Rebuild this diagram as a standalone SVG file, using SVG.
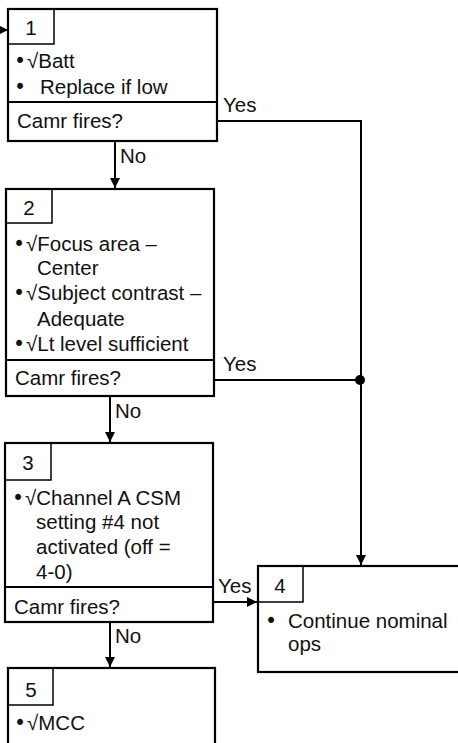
<svg xmlns="http://www.w3.org/2000/svg" width="458" height="743" viewBox="0 0 458 743">
<defs>
<style>
.box{fill:#fff;stroke:#000;stroke-width:2.2}
.num{fill:none;stroke:#000;stroke-width:1.5}
.div{stroke:#000;stroke-width:2.2}
.c{fill:none;stroke:#000;stroke-width:2}
text{font-family:"Liberation Sans",Arial,sans-serif;font-size:20.5px;fill:#111}
.n{text-anchor:middle}
.b{font-family:"DejaVu Sans",sans-serif}
</style>
<marker id="ah" viewBox="0 0 10 10" refX="10" refY="5" markerWidth="10" markerHeight="10" markerUnits="userSpaceOnUse" orient="auto">
<path d="M0,0 L10,5 L0,10 z" fill="#000"/>
</marker>
</defs>
<g id="connectors">
<line class="c" x1="0" y1="30" x2="8" y2="30" marker-end="url(#ah)"/>
<line class="c" x1="115" y1="141" x2="115" y2="188" marker-end="url(#ah)"/>
<text x="120" y="163">No</text>
<line class="c" x1="110" y1="396" x2="110" y2="442" marker-end="url(#ah)"/>
<text x="115" y="418">No</text>
<line class="c" x1="110" y1="622" x2="110" y2="667" marker-end="url(#ah)"/>
<text x="115" y="643">No</text>
<polyline class="c" points="217,121 361,121 361,565" marker-end="url(#ah)"/>
<text x="223" y="112">Yes</text>
<line class="c" x1="214" y1="380" x2="361" y2="380"/>
<circle cx="360" cy="380" r="5" fill="#000"/>
<text x="223" y="371">Yes</text>
<line class="c" x1="213" y1="602" x2="257" y2="602" marker-end="url(#ah)"/>
<text x="218" y="593">Yes</text>
</g>
<g id="node1">
<rect class="box" x="8" y="9" width="209" height="132"/>
<rect class="num" x="8" y="9" width="46" height="35"/>
<text class="n" x="31" y="35">1</text>
<text x="14" y="68"><tspan class="b">•</tspan><tspan x="27">√Batt</tspan></text>
<text x="14" y="94"><tspan class="b">•</tspan><tspan x="40">Replace if low</tspan></text>
<line class="div" x1="8" y1="102" x2="217" y2="102"/>
<text x="17" y="128">Camr fires?</text>
</g>
<g id="node2">
<rect class="box" x="6" y="189" width="208" height="207"/>
<rect class="num" x="6" y="189" width="46" height="34"/>
<text class="n" x="29" y="215">2</text>
<text x="13" y="251"><tspan class="b">•</tspan><tspan x="26">√Focus area –</tspan></text>
<text x="37" y="275">Center</text>
<text x="13" y="300"><tspan class="b">•</tspan><tspan x="26">√Subject contrast –</tspan></text>
<text x="37" y="326">Adequate</text>
<text x="13" y="351"><tspan class="b">•</tspan><tspan x="26">√Lt level sufficient</tspan></text>
<line class="div" x1="6" y1="360" x2="214" y2="360"/>
<text x="15" y="385">Camr fires?</text>
</g>
<g id="node3">
<rect class="box" x="5" y="443" width="208" height="179"/>
<rect class="num" x="5" y="443" width="46" height="37"/>
<text class="n" x="28" y="470">3</text>
<text x="12" y="505"><tspan class="b">•</tspan><tspan x="25">√Channel A CSM</tspan></text>
<text x="36" y="529">setting #4 not</text>
<text x="36" y="554">activated (off =</text>
<text x="36" y="579">4-0)</text>
<line class="div" x1="5" y1="587" x2="213" y2="587"/>
<text x="14" y="614">Camr fires?</text>
</g>
<g id="node4">
<rect class="box" x="258" y="566" width="215" height="106"/>
<rect class="num" x="258" y="566" width="45" height="36"/>
<text class="n" x="280" y="593">4</text>
<text x="265" y="628"><tspan class="b">•</tspan><tspan x="288">Continue nominal</tspan></text>
<text x="288" y="651">ops</text>
</g>
<g id="node5">
<rect class="box" x="8" y="668" width="207" height="90"/>
<rect class="num" x="8" y="668" width="45" height="37"/>
<text class="n" x="31" y="697">5</text>
<text x="14" y="730"><tspan class="b">•</tspan><tspan x="27">√MCC</tspan></text>
</g>
</svg>
